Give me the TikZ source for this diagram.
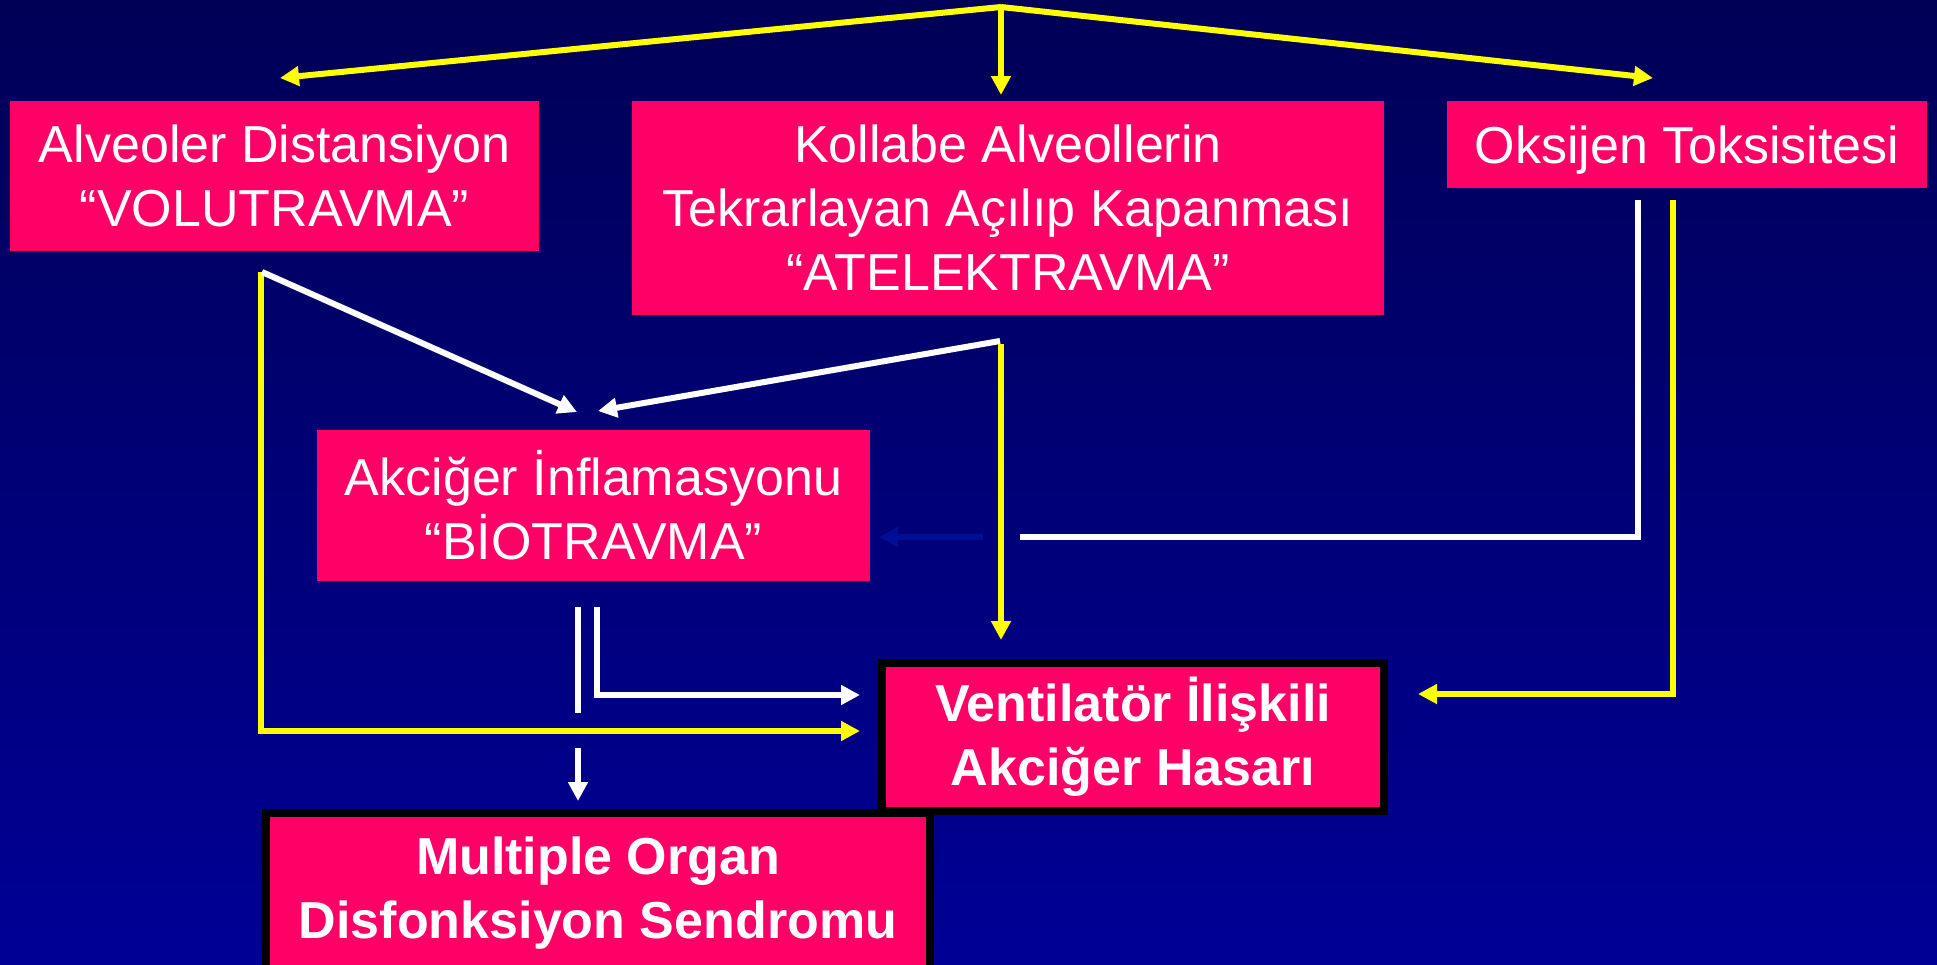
\documentclass[tikz,border=0pt]{standalone}
\usepackage{fontspec}
\setmainfont{Liberation Sans}
\usetikzlibrary{arrows.meta}

\definecolor{slidepink}{RGB}{255,0,102}
\definecolor{slideyellow}{RGB}{255,255,0}
\definecolor{slidetop}{RGB}{0,0,86}
\definecolor{slidebottom}{RGB}{0,0,150}
\definecolor{hiddenblue}{RGB}{0,14,150}

\tikzset{
  pinkbox/.style={fill=slidepink, text=white, align=center, inner sep=0pt,
    font=\fontsize{52}{64}\selectfont},
  boldbox/.style={pinkbox, draw=black, line width=8pt,
    font=\fontsize{52}{64}\selectfont\bfseries},
  yline/.style={draw=slideyellow, line width=6pt},
  wline/.style={draw=white, line width=6pt},
  tip/.style={-{Triangle[length=19pt,width=19pt]}}
}

\begin{document}
\begin{tikzpicture}[x=1pt,y=-1pt]

	\useasboundingbox (0,0) rectangle (1937,964);
	\clip (0,0) rectangle (1937,964);
	\shade[top color=slidetop, bottom color=slidebottom] (0,0) rectangle (1937,964);

	\node[pinkbox, minimum width=529pt, minimum height=150pt] (volu) at (274.5,176)
		{Alveoler Distansiyon\\“VOLUTRAVMA”};
	\node[pinkbox, minimum width=752pt, minimum height=214pt] (atel) at (1008,208)
		{Kollabe Alveollerin\\Tekrarlayan Açılıp Kapanması\\“ATELEKTRAVMA”};
	\node[pinkbox, minimum width=480pt, minimum height=87pt, text depth=0pt] (oksi) at (1687,144.5)
		{Oksijen Toksisitesi};
	\node[pinkbox, minimum width=553pt, minimum height=151pt] (bio) at (593.5,505.5)
		{Akciğer İnflamasyonu\\“BİOTRAVMA”};
	\node[boldbox, minimum width=502pt, minimum height=148pt] (vili) at (1133,737)
		{Ventilatör İlişkili\\Akciğer Hasarı};
	\node[boldbox, minimum width=664pt, minimum height=160pt] (mods) at (598,893)
		{Multiple Organ\\Disfonksiyon Sendromu};

	% top fan
	\coordinate (apex) at (1001,7);
	\coordinate (apexL) at (280,78);
	\coordinate (apexR) at (1653,78);
	\coordinate (apexM) at (1001,95);
	\draw[yline, tip] (apex) -- (apexL);
	\draw[yline, tip] (apex) -- (apexR);
	\draw[yline, tip] (apex) -- (apexM);

	% from volutravma
	\coordinate (voluY) at (261,272);
	\coordinate (voluW) at (262,272);
	\coordinate (bioL) at (577,412);
	\coordinate (viliY) at (860,731);
	\draw[yline, tip] (voluY) |- (viliY);
	\draw[wline, tip] (voluW) -- (bioL);

	% from atelektravma
	\coordinate (atelW) at (1000,341);
	\coordinate (atelY) at (1001,344);
	\coordinate (bioR) at (598,411);
	\coordinate (viliT) at (1001,640);
	\draw[wline, tip] (atelW) -- (bioR);
	\draw[yline, tip] (atelY) -- (viliT);

	% from oksijen
	\coordinate (oksiW) at (1638,200);
	\coordinate (oksiWend) at (1020,537);
	\coordinate (oksiY) at (1673,200);
	\coordinate (viliR) at (1418,694);
	\draw[wline] (oksiW) |- (oksiWend);
	\draw[yline, tip] (oksiY) |- (viliR);
	\coordinate (hidS) at (983,537);
	\coordinate (hidE) at (879,537);
	\draw[draw=hiddenblue, line width=6pt, tip] (hidS) -- (hidE);

	% from biotravma
	\coordinate (bioW1) at (578,607);
	\coordinate (bioW1end) at (578,713);
	\coordinate (bioW2) at (597,607);
	\coordinate (viliW) at (860,695);
	\coordinate (bioD) at (578,748);
	\coordinate (modsT) at (578,801);
	\draw[wline] (bioW1) -- (bioW1end);
	\draw[wline, tip] (bioW2) |- (viliW);
	\draw[wline, tip] (bioD) -- (modsT);

\end{tikzpicture}
\end{document}
